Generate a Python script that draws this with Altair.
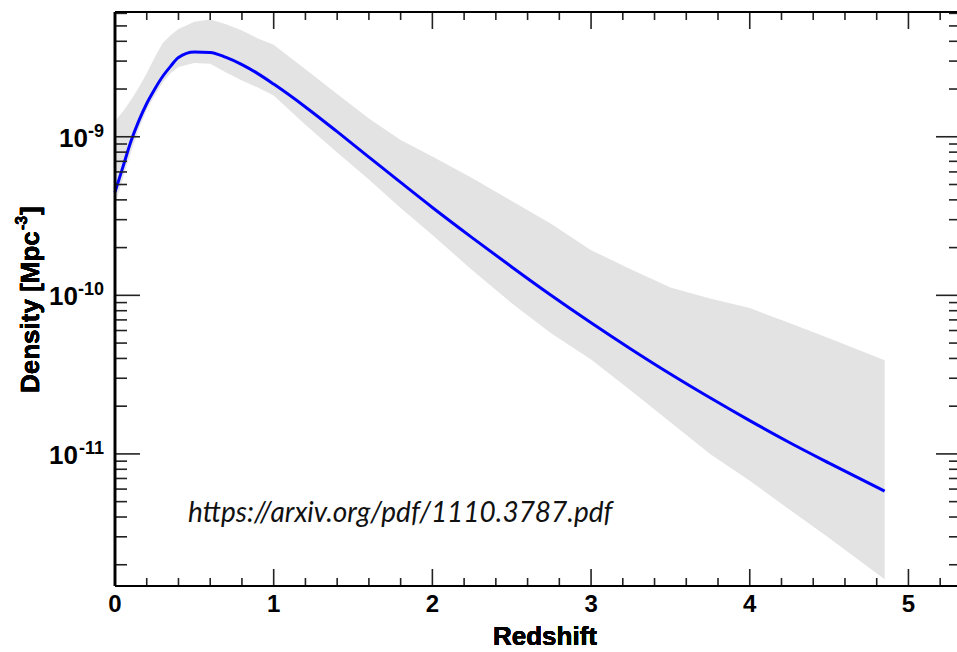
import altair as alt
import pandas as pd

# ---- data (redshift, log10 density) ----
redshift = [0, 0.05, 0.1, 0.15, 0.2, 0.25, 0.3, 0.35, 0.4, 0.5, 0.6, 0.7, 0.8, 0.9,
            1.0, 1.2, 1.4, 1.6, 1.8, 2.0, 2.25, 2.5, 2.75, 3.0, 3.25, 3.5, 3.75,
            4.0, 4.25, 4.5, 4.85]
log_density = [-9.349, -9.19, -9.03, -8.90, -8.79, -8.70, -8.62, -8.556, -8.50,
               -8.466, -8.468, -8.50, -8.545, -8.602, -8.668, -8.812, -8.968, -9.128,
               -9.288, -9.446, -9.636, -9.821, -10.001, -10.173, -10.338, -10.496,
               -10.646, -10.79, -10.928, -11.058, -11.235]
log_band_upper = [-8.90, -8.84, -8.77, -8.69, -8.60, -8.50, -8.41, -8.36, -8.32,
                  -8.275, -8.26, -8.29, -8.33, -8.38, -8.42, -8.575, -8.73, -8.885,
                  -9.02, -9.125, -9.26, -9.405, -9.55, -9.715, -9.835, -9.95,
                  -10.02, -10.08, -10.175, -10.27, -10.41]
log_band_lower = [-9.43, -9.26, -9.10, -8.95, -8.83, -8.74, -8.66, -8.60, -8.56,
                  -8.535, -8.54, -8.595, -8.645, -8.69, -8.74, -8.925, -9.10, -9.27,
                  -9.45, -9.62, -9.84, -10.05, -10.24, -10.405, -10.60, -10.80,
                  -11.00, -11.17, -11.35, -11.53, -11.79]

x_major_ticks = [0, 1, 2, 3, 4, 5]
x_minor_ticks = [0.2, 0.4, 0.6, 0.8, 1.2, 1.4, 1.6, 1.8, 2.2, 2.4, 2.6, 2.8,
                 3.2, 3.4, 3.6, 3.8, 4.2, 4.4, 4.6, 4.8, 5.2]
x_tick_labels = ["0", "1", "2", "3", "4", "5"]
y_major_ticks = [1e-11, 1e-10, 1e-9]
y_minor_ticks = [2e-12, 3e-12, 4e-12, 5e-12, 6e-12, 7e-12, 8e-12, 9e-12,
                 2e-11, 3e-11, 4e-11, 5e-11, 6e-11, 7e-11, 8e-11, 9e-11,
                 2e-10, 3e-10, 4e-10, 5e-10, 6e-10, 7e-10, 8e-10, 9e-10,
                 2e-9, 3e-9, 4e-9, 5e-9, 6e-9]
y_label_exponents = ["-11", "-10", "-9"]

annotation_text = ["https://arxiv.org/pdf/1110.3787.pdf"]
annotation_x = [0.46]
annotation_y = [3.7e-12]

W, H = 842, 574

df = pd.DataFrame({
    "z": redshift,
    "density": [10 ** v for v in log_density],
    "upper": [10 ** v for v in log_band_upper],
    "lower": [10 ** v for v in log_band_lower],
})
xmaj = pd.DataFrame({"t": x_major_ticks, "label": x_tick_labels})
xmin = pd.DataFrame({"t": x_minor_ticks})
ymaj = pd.DataFrame({"v": y_major_ticks, "sup": y_label_exponents})
ymin = pd.DataFrame({"v": y_minor_ticks})
ann = pd.DataFrame({"text": annotation_text, "x": annotation_x, "y": annotation_y})

xs = alt.Scale(domain=[0, 5.306], nice=False, zero=False)
ys = alt.Scale(type="log", domain=[1.469e-12, 6.12e-9], nice=False)

FONT = "Liberation Sans"
TICK = "#222222"

band = alt.Chart(df).mark_area(color="#e3e3e3", opacity=1).encode(
    x=alt.X("z:Q", scale=xs, axis=None),
    y=alt.Y("lower:Q", scale=ys, axis=None),
    y2="upper:Q",
)

line = alt.Chart(df).mark_line(color="#0000ff", strokeWidth=3, interpolate="monotone").encode(
    x=alt.X("z:Q", scale=xs, axis=None),
    y=alt.Y("density:Q", scale=ys, axis=None),
)

# ticks inside the frame (ROOT style)
xb_major = alt.Chart(xmaj).mark_rule(color=TICK, strokeWidth=1.6).encode(
    x=alt.X("t:Q", scale=xs, axis=None), y=alt.value(H), y2=alt.value(H - 17))
xb_minor = alt.Chart(xmin).mark_rule(color=TICK, strokeWidth=1.6).encode(
    x=alt.X("t:Q", scale=xs, axis=None), y=alt.value(H), y2=alt.value(H - 8))
xt_major = alt.Chart(xmaj).mark_rule(color=TICK, strokeWidth=1.6).encode(
    x=alt.X("t:Q", scale=xs, axis=None), y=alt.value(0), y2=alt.value(17))
xt_minor = alt.Chart(xmin).mark_rule(color=TICK, strokeWidth=1.6).encode(
    x=alt.X("t:Q", scale=xs, axis=None), y=alt.value(0), y2=alt.value(8))

yl_major = alt.Chart(ymaj).mark_rule(color=TICK, strokeWidth=1.6).encode(
    y=alt.Y("v:Q", scale=ys, axis=None), x=alt.value(0), x2=alt.value(25))
yl_minor = alt.Chart(ymin).mark_rule(color=TICK, strokeWidth=1.6).encode(
    y=alt.Y("v:Q", scale=ys, axis=None), x=alt.value(0), x2=alt.value(12))
yr_major = alt.Chart(ymaj).mark_rule(color=TICK, strokeWidth=1.6).encode(
    y=alt.Y("v:Q", scale=ys, axis=None), x=alt.value(W + 4), x2=alt.value(W - 21))
yr_minor = alt.Chart(ymin).mark_rule(color=TICK, strokeWidth=1.6).encode(
    y=alt.Y("v:Q", scale=ys, axis=None), x=alt.value(W + 4), x2=alt.value(W - 8))

frame_top = alt.Chart(xmaj).mark_rule(color="black", strokeWidth=2.2).encode(
    x=alt.value(0), x2=alt.value(W + 4), y=alt.value(0))
frame_bottom = alt.Chart(xmaj).mark_rule(color="black", strokeWidth=2.2).encode(
    x=alt.value(0), x2=alt.value(W + 4), y=alt.value(H))
frame_left = alt.Chart(xmaj).mark_rule(color="black", strokeWidth=2.2).encode(
    x=alt.value(0), y=alt.value(0), y2=alt.value(H))

# x tick labels
xlab = alt.Chart(xmaj).mark_text(font=FONT, fontWeight="bold", fontSize=24,
                                 align="center", baseline="alphabetic",
                                 color="black").encode(
    x=alt.X("t:Q", scale=xs, axis=None), y=alt.value(H + 26), text="label:N")

# y tick labels: "10" with superscript exponent
ylab_base = alt.Chart(ymaj).transform_calculate(
    px="-11 - (0.333 + 0.556 * (length(datum.sup) - 1)) * 18"
).mark_text(font=FONT, fontWeight="bold", fontSize=26, align="right",
            baseline="alphabetic", dy=10, color="black").encode(
    x=alt.X("px:Q", scale=None), y=alt.Y("v:Q", scale=ys, axis=None),
    text=alt.value("10"))
ylab_sup = alt.Chart(ymaj).mark_text(font=FONT, fontWeight="bold", fontSize=18,
                                     align="right", baseline="alphabetic", dy=0,
                                     color="black").encode(
    x=alt.value(-11), y=alt.Y("v:Q", scale=ys, axis=None), text="sup:N")

# axis titles
xtitle = alt.Chart(xmaj).mark_text(font=FONT, fontWeight="bold", fontSize=26,
                                   align="center", baseline="alphabetic",
                                   color="black").encode(
    x=alt.value(430), y=alt.value(633), text=alt.value("Redshift"))
ytitle_main = alt.Chart(xmaj).mark_text(font=FONT, fontWeight="bold", fontSize=26,
                                        angle=270, align="left", baseline="alphabetic",
                                        color="black").encode(
    x=alt.value(-76), y=alt.value(381), text=alt.value("Density [Mpc"))
ytitle_sup = alt.Chart(xmaj).mark_text(font=FONT, fontWeight="bold", fontSize=16,
                                       angle=270, align="left", baseline="alphabetic",
                                       color="black").encode(
    x=alt.value(-88), y=alt.value(218), text=alt.value("-3"))
ytitle_end = alt.Chart(xmaj).mark_text(font=FONT, fontWeight="bold", fontSize=26,
                                       angle=270, align="left", baseline="alphabetic",
                                       color="black").encode(
    x=alt.value(-76), y=alt.value(203), text=alt.value("]"))

annotation = alt.Chart(ann).mark_text(font="Lato", fontStyle="italic", fontSize=28,
                                      align="left", baseline="alphabetic",
                                      color="#111111").encode(
    x=alt.X("x:Q", scale=xs, axis=None), y=alt.Y("y:Q", scale=ys, axis=None),
    text="text:N")

chart = alt.layer(
    band, line,
    xb_major, xb_minor, xt_major, xt_minor,
    yl_major, yl_minor, yr_major, yr_minor,
    frame_top, frame_bottom, frame_left,
    xlab, ylab_base, ylab_sup, xtitle, ytitle_main, ytitle_sup, ytitle_end,
    annotation,
).properties(
    width=W, height=H,
    padding={"left": 115, "top": 12, "right": 0, "bottom": 66},
    autosize=alt.AutoSizeParams(type="none"),
    background="white",
).configure_view(stroke=None)

chart.save("out.html", embed_options={"renderer": "svg", "actions": False})
